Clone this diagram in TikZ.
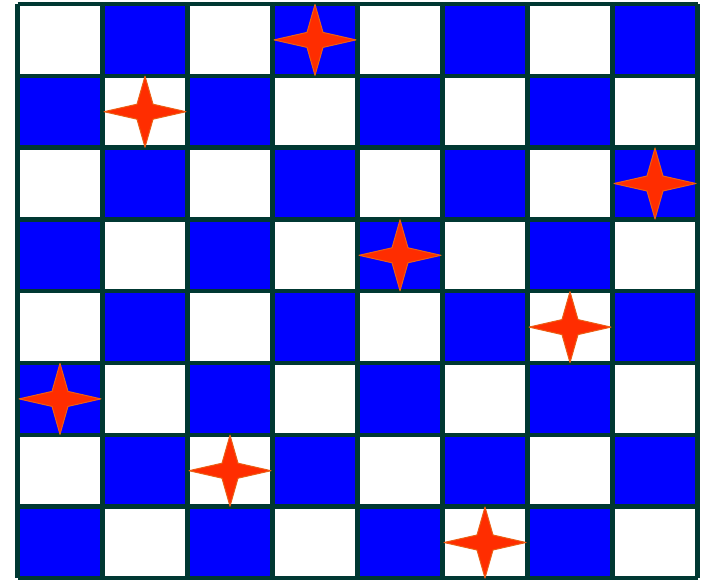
\documentclass[tikz,border=0pt]{standalone}
\definecolor{boardblue}{RGB}{0,0,255}
\definecolor{gridc}{RGB}{0,56,50}
\definecolor{starred}{RGB}{255,45,0}
\definecolor{staredge}{RGB}{235,95,20}
\begin{document}
\begin{tikzpicture}[x=1pt,y=-1pt,
  cellb/.style={fill=boardblue},
  gridline/.style={draw=gridc,line width=4.5pt},
  queenstar/.style={fill=starred,draw=staredge,line width=1pt,line join=round}]
\useasboundingbox (0,0) rectangle (701,580);
\def\xo{17.5}\def\yo{4}\def\dx{85}\def\dy{71.8}
\foreach \r in {0,...,7}{
  \foreach \c in {0,...,7}{
    \pgfmathtruncatemacro\myparity{mod(\r+\c,2)}
    \ifnum\myparity=1
      \fill[cellb] (\xo+\c*\dx,\yo+\r*\dy) rectangle ++(\dx,\dy);
    \fi
  }
}
\foreach \i in {0,...,8}{
  \draw[gridline] (\xo+\i*\dx,\yo) -- (\xo+\i*\dx,\yo+8*\dy);
  \draw[gridline] (\xo,\yo+\i*\dy) -- (\xo+8*\dx,\yo+\i*\dy);
}
\foreach \r/\c in {0/3,1/1,2/7,3/4,4/6,5/0,6/2,7/5}{
  \coordinate (q\r) at (\xo+\c*\dx+0.5*\dx,\yo+\r*\dy+0.5*\dy);
  \filldraw[queenstar] (q\r) ++(-41,0) -- ++(33,-7.5) -- ++(8,-28) -- ++(8,28) -- ++(33,7.5)
    -- ++(-33,7.5) -- ++(-8,28) -- ++(-8,-28) -- cycle;
}
\end{tikzpicture}
\end{document}
